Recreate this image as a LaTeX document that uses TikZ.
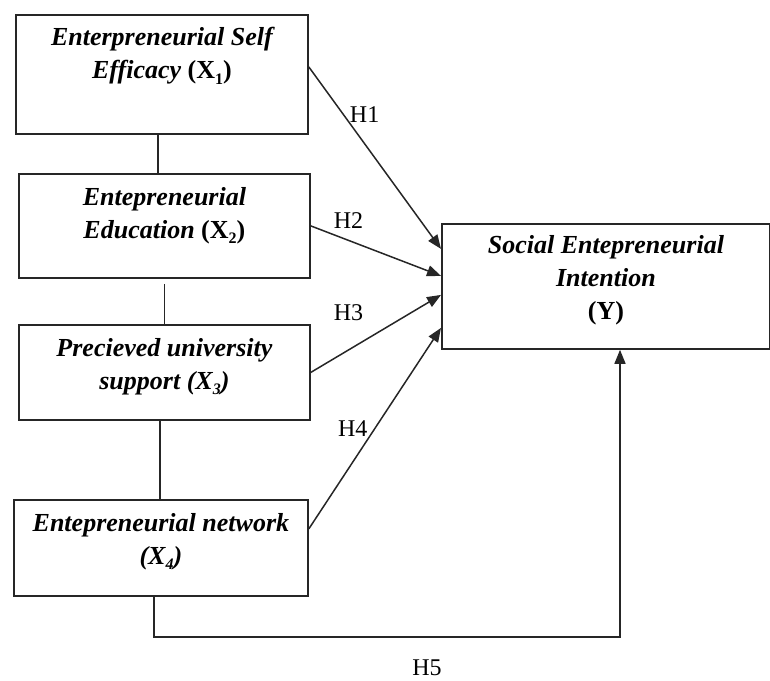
\documentclass[tikz,border=0pt]{standalone}
\usepackage{fontspec}
\setmainfont{Liberation Serif}
\usetikzlibrary{positioning,arrows.meta}
\newcommand{\lsub}[1]{\raisebox{-0.45ex}{\footnotesize #1}}

\begin{document}
\begin{tikzpicture}[x=0.5pt,y=-0.5pt,
  box/.style={draw=black!85,line width=0.9pt,anchor=north west,inner sep=0pt},
  lbl/.style={align=center,inner sep=0pt,font=\fontsize{13}{16.5}\selectfont\bfseries\itshape},
  hlbl/.style={inner sep=1pt,font=\fontsize{12}{14}\selectfont},
  arr/.style={draw=black!85,line width=0.75pt,-{Triangle[length=7pt,width=5.5pt]}},
  link/.style={draw=black!85,line width=0.75pt}]
  \useasboundingbox (0,0) rectangle (770,680);

  % variable boxes
  \node[box,minimum width=146pt,minimum height=59.5pt] (x1) at (15,14) {};
  \node[box,minimum width=145.5pt,minimum height=52pt] (x2) at (18,173) {};
  \node[box,minimum width=145.5pt,minimum height=47.5pt] (x3) at (18,324) {};
  \node[box,minimum width=147pt,minimum height=48pt] (x4) at (13,499) {};
  \node[box,minimum width=164pt,minimum height=62.5pt] (y) at (441,223) {};

  \node[lbl,below=6.5pt of x1.north] (t1) {Enterpreneurial Self\\Efficacy \upshape(X\lsub{1})};
  \node[lbl,below=7pt of x2.north] (t2) {Entepreneurial\\Education \upshape(X\lsub{2})};
  \node[lbl,below=7pt of x3.north] (t3) {Precieved university\\support (X\lsub{3})};
  \node[lbl,below=7pt of x4.north] (t4) {Entepreneurial network\\(X\lsub{4})};
  \node[lbl,below=6pt of y.north] (ty) {Social Entepreneurial\\Intention\\\upshape(Y)};

  % links between the X boxes
  \draw[link] ([xshift=-2pt]x1.south) -- ([xshift=-2pt]x1.south |- x2.north);
  \draw[link] ([yshift=-2.5pt]x2.south) -- (x2.south |- x3.north);
  \draw[link] ([xshift=-2.25pt]x3.south) -- ([xshift=-2.25pt]x3.south |- x4.north);

  % hypotheses
  \draw[arr] ([yshift=3.75pt]x1.east) -- node[hlbl,pos=.26,right=2pt] (h1) {H1} ([yshift=18.75pt]y.west);
  \draw[arr] (x2.east) -- node[hlbl,pos=.29,above=4.7pt] (h2) {H2} ([yshift=5.25pt]y.west);
  \draw[arr] (x3.east) -- node[hlbl,pos=.29,above=13pt] (h3) {H3} ([yshift=-4.25pt]y.west);
  \draw[arr] ([yshift=9.5pt]x4.east) -- node[hlbl,pos=.5,left=2.4pt] (h4) {H4} ([yshift=-20.75pt]y.west);

  \coordinate (turn) at (620,637);
  \draw[arr] ([xshift=-3.5pt]x4.south) |- (turn) -- (turn |- y.south);
  \node[hlbl] (h5) at (427,668) {H5};
\end{tikzpicture}
\end{document}
